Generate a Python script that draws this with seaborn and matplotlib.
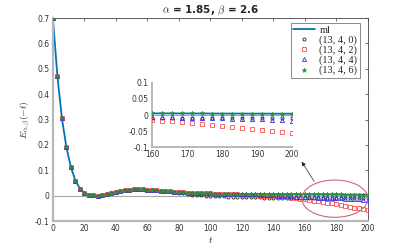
import numpy as np
import pandas as pd
import matplotlib
matplotlib.use('Agg')
import matplotlib.pyplot as plt
from matplotlib.patches import Ellipse
import seaborn as sns

# sample points t = 0 : 200/70 : 200
t = np.linspace(0, 200, 71)

# Mittag-Leffler curve E_{1.85,2.6}(-t)
ml = [0.700, 0.470, 0.305, 0.190, 0.112, 0.059, 0.028, 0.011, 0.004, 0.001,
      0.000, 0.003, 0.007, 0.011, 0.015, 0.019, 0.022, 0.024, 0.026, 0.026,
      0.026, 0.024, 0.023, 0.021, 0.020, 0.018, 0.017, 0.015, 0.014, 0.013,
      0.012, 0.011, 0.010, 0.0095, 0.0089, 0.0085, 0.0080, 0.0077, 0.0075, 0.0073,
      0.0071, 0.0069, 0.0068, 0.0066, 0.0065, 0.0063, 0.0062, 0.0061, 0.0059, 0.0058,
      0.0057, 0.0056, 0.0055, 0.0054, 0.0053, 0.0052, 0.0051, 0.0050, 0.0049, 0.0048,
      0.0048, 0.0047, 0.0046, 0.0045, 0.0045, 0.0044, 0.0043, 0.0043, 0.0042, 0.0041,
      0.0041]

# approximants: they follow ml and then drift away at large t
r_13_4_0 = ml[:27] + [0.014, 0.011, 0.009, 0.006, 0.004, 0.002, 0.001, 0.000,
                      -0.001, -0.002, -0.003, -0.003, -0.004, -0.005, -0.005, -0.006,
                      -0.006, -0.007, -0.007, -0.007, -0.008, -0.008, -0.008, -0.009,
                      -0.009, -0.009, -0.009, -0.010, -0.010, -0.010, -0.010, -0.010,
                      -0.010, -0.010, -0.010, -0.010, -0.010, -0.010, -0.010, -0.010,
                      -0.010, -0.010, -0.010, -0.010]
r_13_4_2 = ml[:42] + [0.004, 0.003, 0.002, 0.001, 0.000, -0.001, -0.002, -0.003,
                      -0.004, -0.005, -0.007, -0.008, -0.010, -0.012, -0.015, -0.018,
                      -0.020, -0.023, -0.025, -0.028, -0.030, -0.033, -0.036, -0.040,
                      -0.043, -0.047, -0.050, -0.054, -0.057]
r_13_4_4 = ml[:45] + [0.005, 0.004, 0.003, 0.002, 0.001, 0.000, -0.001, -0.002,
                      -0.003, -0.004, -0.005, -0.006, -0.007, -0.007, -0.008, -0.008,
                      -0.009, -0.009, -0.010, -0.011, -0.012, -0.013, -0.014, -0.015,
                      -0.016, -0.018]
r_13_4_6 = list(ml)

labels = ['(13, 4, 0)', '(13, 4, 2)', '(13, 4, 4)', '(13, 4, 6)']
series = [r_13_4_0, r_13_4_2, r_13_4_4, r_13_4_6]
styles = [dict(marker='o', markerfacecolor='none', markeredgecolor='#222222', markersize=2.2, markeredgewidth=0.6),
          dict(marker='s', markerfacecolor='none', markeredgecolor='#ff4d4d', markersize=2.6, markeredgewidth=0.6),
          dict(marker='^', markerfacecolor='none', markeredgecolor='#3333ee', markersize=3.0, markeredgewidth=0.6),
          dict(marker='*', markerfacecolor='#2ca02c', markeredgecolor='#2a8a2a', markersize=3.4, markeredgewidth=0.4)]

sns.set_style('white')
plt.rcParams['font.family'] = ['DejaVu Sans']
plt.rcParams['mathtext.fontset'] = 'cm'

df = pd.DataFrame({'t': t, 'ml': ml})

fig = plt.figure(figsize=(4.07, 2.49), dpi=100)
ax = fig.add_axes([0.130, 0.1124, 0.774, 0.8153])


def draw(ax, with_label):
    ax.axhline(0, color='#a8a8a8', lw=0.8, zorder=0)
    sns.lineplot(ax=ax, data=df, x='t', y='ml', color='#0072BD', lw=1.3,
                 label='ml' if with_label else None, zorder=2)
    for lab, vals, st in zip(labels, series, styles):
        sns.lineplot(ax=ax, x=t, y=vals, linestyle='', label=lab if with_label else None,
                     zorder=3, **st)


draw(ax, True)
ax.set_xlim(0, 200)
ax.set_ylim(-0.1, 0.7)
ax.set_xticks(np.arange(0, 201, 20))
ax.set_yticks(np.arange(-0.1, 0.71, 0.1))
ax.set_yticklabels(['-0.1', '0', '0.1', '0.2', '0.3', '0.4', '0.5', '0.6', '0.7'])
ax.tick_params(direction='in', length=2.5, width=0.5, labelsize=5.5, colors='#333333',
               top=True, right=True, pad=2.5)
for s in ['top', 'right']:
    ax.spines[s].set_color('#444444')
    ax.spines[s].set_linewidth(0.6)
for s in ['left', 'bottom']:
    ax.spines[s].set_color('#b8b8b8')
    ax.spines[s].set_linewidth(1.6)
ax.set_xlabel(r'$t$', fontsize=7, labelpad=1)
ax.set_ylabel(r'$E_{\alpha,\beta}(-t)$', fontsize=7, labelpad=2)
ax.set_title(r'$\mathbf{\alpha}$ = 1.85, $\mathbf{\beta}$ = 2.6', fontsize=7.5, fontweight='bold', pad=3)

leg = ax.legend(loc='upper right', bbox_to_anchor=(0.975, 0.975), borderaxespad=0,
                prop={'family': 'Liberation Serif', 'size': 7.5}, frameon=True, fancybox=False,
                framealpha=1, handlelength=2.1, handletextpad=0.4, borderpad=0.25, labelspacing=0.05)
leg.get_frame().set_edgecolor('#777777')
leg.get_frame().set_linewidth(0.6)

ax.add_patch(Ellipse((179, -0.012), 42, 0.147, fill=False, edgecolor='#c86a7a', lw=0.8, zorder=4))
ax.annotate('', xy=(157, 0.143), xytext=(166.8, 0.047),
            arrowprops=dict(arrowstyle='-|>', color='#222222', lw=0.5, mutation_scale=6))

# inset zoom on the tail
ins = fig.add_axes([0.3735, 0.4096, 0.344, 0.2571])
draw(ins, False)
ins.set_xlim(160, 200)
ins.set_ylim(-0.1, 0.1)
ins.set_xticks([160, 170, 180, 190, 200])
ins.set_yticks([-0.1, -0.05, 0, 0.05, 0.1])
ins.set_yticklabels(['-0.1', '-0.05', '0', '0.05', '0.1'])
ins.set_xlabel('')
ins.set_ylabel('')
ins.tick_params(direction='in', length=2, width=0.5, labelsize=5.5, colors='#333333', pad=2.5)
for s in ['top', 'right']:
    ins.spines[s].set_visible(False)
for s in ['left', 'bottom']:
    ins.spines[s].set_color('#b8b8b8')
    ins.spines[s].set_linewidth(1.4)

fig.savefig('out.png', dpi=100)
